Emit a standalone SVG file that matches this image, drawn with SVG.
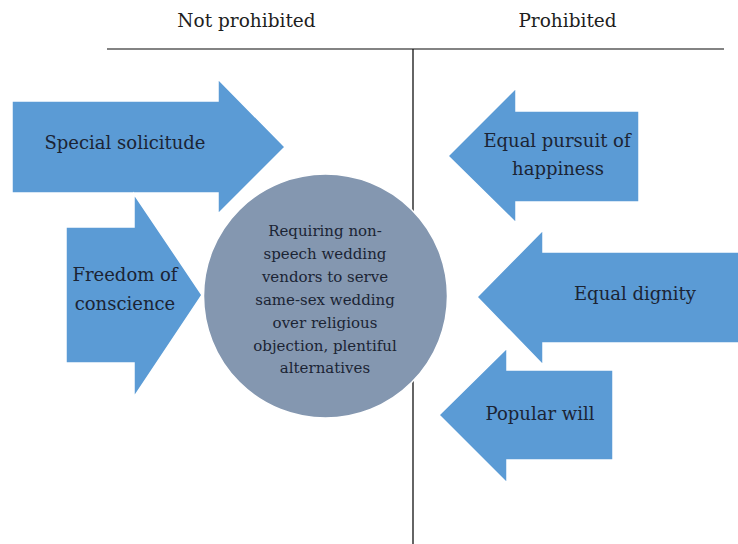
<svg xmlns="http://www.w3.org/2000/svg" width="738" height="544" viewBox="0 0 738 544">
<style>
.arrow{fill:#5b9bd5;stroke:#ffffff;stroke-width:1.5;stroke-linejoin:miter}
.lbl{font-family:"DejaVu Serif","Liberation Serif",serif;font-size:18px;fill:#1b2434;text-anchor:middle}
.ctext{font-family:"DejaVu Serif","Liberation Serif",serif;font-size:15px;fill:#1b2434;text-anchor:middle}
.title{font-family:"DejaVu Serif","Liberation Serif",serif;font-size:18.5px;fill:#1e1e1e;text-anchor:middle}
</style>
<rect width="738" height="544" fill="#ffffff"/>
<g id="axes">
<line x1="107" y1="49" x2="724" y2="49" stroke="#5a5a5a" stroke-width="1.4"/>
<line x1="413" y1="49" x2="413" y2="544" stroke="#111111" stroke-width="1.3"/>
</g>
<g id="titles">
<text class="title" x="246.5" y="27">Not prohibited</text>
<text class="title" x="567.5" y="27">Prohibited</text>
</g>
<g id="center">
<circle cx="325.5" cy="296" r="122" fill="#8497b0" stroke="#ffffff" stroke-width="1.5"/>
<text class="ctext" x="325" y="236">Requiring non-</text>
<text class="ctext" x="325" y="259">speech wedding</text>
<text class="ctext" x="325" y="282">vendors to serve</text>
<text class="ctext" x="325" y="305">same-sex wedding</text>
<text class="ctext" x="325" y="328">over religious</text>
<text class="ctext" x="325" y="351">objection, plentiful</text>
<text class="ctext" x="325" y="373">alternatives</text>
</g>
<g id="connectors">
<g id="special-solicitude">
<polygon class="arrow" points="12,101 218,101 218,79 285,147 218,214 218,193 12,193"/>
<text class="lbl" x="125" y="149">Special solicitude</text>
</g>
<g id="freedom-of-conscience">
<polygon class="arrow" points="66,227 134,227 134,194 202,295 134,397 134,363 66,363"/>
<text class="lbl" x="125" y="281">Freedom of</text>
<text class="lbl" x="125" y="310">conscience</text>
</g>
<g id="equal-pursuit">
<polygon class="arrow" points="639,111 516,111 516,88 448,156 516,223 516,202 639,202"/>
<text class="lbl" x="557" y="147">Equal pursuit of</text>
<text class="lbl" x="558" y="175">happiness</text>
</g>
<g id="equal-dignity">
<polygon class="arrow" points="742,252 543,252 543,230 477,297 543,365 543,343 742,343"/>
<text class="lbl" x="635" y="300">Equal dignity</text>
</g>
<g id="popular-will">
<polygon class="arrow" points="613,370 507,370 507,348 439,415 507,483 507,460 613,460"/>
<text class="lbl" x="540" y="420">Popular will</text>
</g>
</g>
</svg>
